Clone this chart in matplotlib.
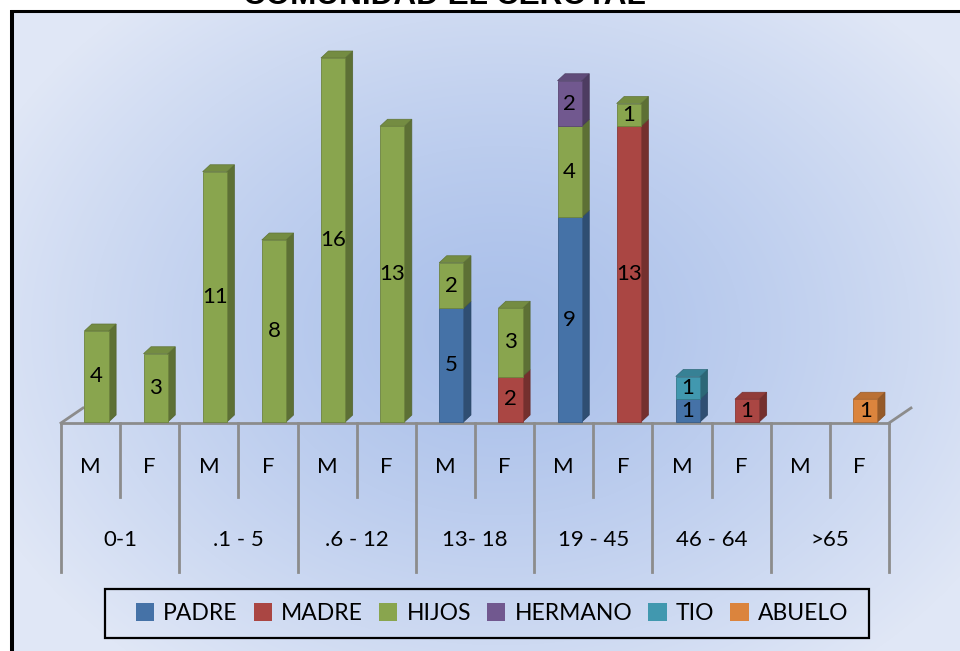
import numpy as np
import matplotlib
matplotlib.use('Agg')
import matplotlib.pyplot as plt
from matplotlib.patches import Polygon, Rectangle, Patch
from matplotlib.colors import to_rgb

plt.rcParams['font.family'] = ['Lato', 'DejaVu Sans']

# %% data
title = 'COMUNIDAD EL CEROTAL'
groups = ['0-1', '.1 - 5', '.6 - 12', '13- 18', '19 - 45', '46 - 64', '>65']
sexes = ['M', 'F'] * 7
series_names = ['PADRE', 'MADRE', 'HIJOS', 'HERMANO', 'TIO', 'ABUELO']
colors = ['#4572A7', '#AA4643', '#89A54E', '#71588F', '#4198AF', '#DB843D']

padre   = [0, 0, 0, 0, 0, 0, 5, 0, 9, 0, 1, 0, 0, 0]
madre   = [0, 0, 0, 0, 0, 0, 0, 2, 0, 13, 0, 1, 0, 0]
hijos   = [4, 3, 11, 8, 16, 13, 2, 3, 4, 1, 0, 0, 0, 0]
hermano = [0, 0, 0, 0, 0, 0, 0, 0, 2, 0, 0, 0, 0, 0]
tio     = [0, 0, 0, 0, 0, 0, 0, 0, 0, 0, 1, 0, 0, 0]
abuelo  = [0, 0, 0, 0, 0, 0, 0, 0, 0, 0, 0, 0, 0, 1]
series = [padre, madre, hijos, hermano, tio, abuelo]

# %% figure geometry (pixels)
W, H = 960, 651
fig = plt.figure(figsize=(W / 100, H / 100), dpi=100)
fig.patch.set_facecolor('white')

# background with gradient + black frame
bg = fig.add_axes([0, 0, 1, 1])
bg.set_xlim(0, W)
bg.set_ylim(H, 0)
bg.set_axis_off()
yy, xx = np.mgrid[0:H, 0:W]
r = np.sqrt(((xx - 500) / 560.0) ** 2 + ((yy - 330) / 430.0) ** 2)
r = np.clip(r, 0, 1) ** 1.3
c_in = np.array([170, 192, 234]) / 255
c_out = np.array([224, 231, 246]) / 255
img = c_in[None, None, :] * (1 - r[..., None]) + c_out[None, None, :] * r[..., None]
bg.imshow(img[10:, 12:], extent=(12, W, H, 10), aspect='auto', zorder=0)
bg.plot([12, 12], [H, 10], color='black', lw=2.9, solid_capstyle='butt')
bg.plot([10, W], [10.5, 10.5], color='black', lw=2.2, solid_capstyle='butt')
# title is cropped by the top edge in the source image
bg.text(444, 4, title, ha='center', va='baseline', fontsize=22.7,
        fontweight='bold', family='Liberation Sans', color='black')

# legend box
bg.add_patch(Rectangle((105, 589), 764, 49, fill=False, ec='black', lw=1.6))

# %% main plot area
floor_px = 422
px_per_unit = 22.75
ax = fig.add_axes([61 / W, (H - floor_px) / H, (889 - 61) / W, floor_px / H])
ax.set_xlim(-0.5, 13.5)
ax.set_ylim(0, floor_px / px_per_unit)
ax.set_axis_off()

def shade(c, f):
    return tuple(np.clip(np.array(to_rgb(c)) * f, 0, 1))

u = 1.0 / px_per_unit           # one pixel in value units
ux = 1.0 / 59.14                # one pixel in category units
bw = 0.41
off = 0.10
dx = 7.5 * ux
dy = 7 * u

n = len(sexes)
bottoms = np.zeros(n)
top_seg = {}
for s, vals in enumerate(series):
    for i, v in enumerate(vals):
        if v > 0:
            top_seg[i] = s
for s, vals in enumerate(series):
    col = colors[s]
    for i, v in enumerate(vals):
        if v <= 0:
            continue
        b = bottoms[i]
        t = b + v
        left = i + off - bw / 2
        right = i + off + bw / 2
        ax.bar(i + off, v, bottom=b, width=bw, color=col,
               edgecolor=shade(col, 0.8), linewidth=0.6, zorder=3, clip_on=False)
        ax.add_patch(Polygon([(right, b), (right + dx, b + dy), (right + dx, t + dy), (right, t)],
                             closed=True, fc=shade(col, 0.68), ec=shade(col, 0.6),
                             lw=0.5, zorder=2, clip_on=False))
        if top_seg[i] == s:
            ax.add_patch(Polygon([(left, t), (left + dx, t + dy), (right + dx, t + dy), (right, t)],
                                 closed=True, fc=shade(col, 0.85), ec=shade(col, 0.7),
                                 lw=0.5, zorder=2, clip_on=False))
        ax.text(i + off, b + v / 2, str(v), ha='center', va='center',
                fontsize=16, color='black', zorder=5)
        bottoms[i] = t

# floor and category axis
grey = '#8c8c8c'
ax.plot([-0.5, 13.5], [-1 * u, -1 * u], color=grey, lw=2, clip_on=False, zorder=1)
ax.plot([-0.5, -0.5 + 22 * ux], [-1 * u, 14 * u], color=grey, lw=2, clip_on=False, zorder=1)
ax.plot([13.5, 13.5 + 22 * ux], [-1 * u, 14 * u], color=grey, lw=2, clip_on=False, zorder=1)
for k in range(n + 1):
    x = k - 0.5
    depth = 150 if k % 2 == 0 else 75
    ax.plot([x, x], [-1 * u, -depth * u], color=grey, lw=2, clip_on=False, zorder=1)
for i, lab in enumerate(sexes):
    ax.text(i, -45 * u, lab, ha='center', va='center', fontsize=16, clip_on=False)
for g, lab in enumerate(groups):
    ax.text(2 * g + 0.5, -118 * u, lab, ha='center', va='center', fontsize=16, clip_on=False)

# legend
handles = [Patch(facecolor=c, edgecolor='none') for c in colors]
fig.legend(handles, series_names, loc='center', bbox_to_anchor=(492 / W, 1 - 613.5 / H),
           ncol=6, frameon=False, fontsize=16.5, handlelength=0.8, handleheight=0.8,
           handletextpad=0.4, columnspacing=0.7)

fig.savefig('out.png', dpi=100)
